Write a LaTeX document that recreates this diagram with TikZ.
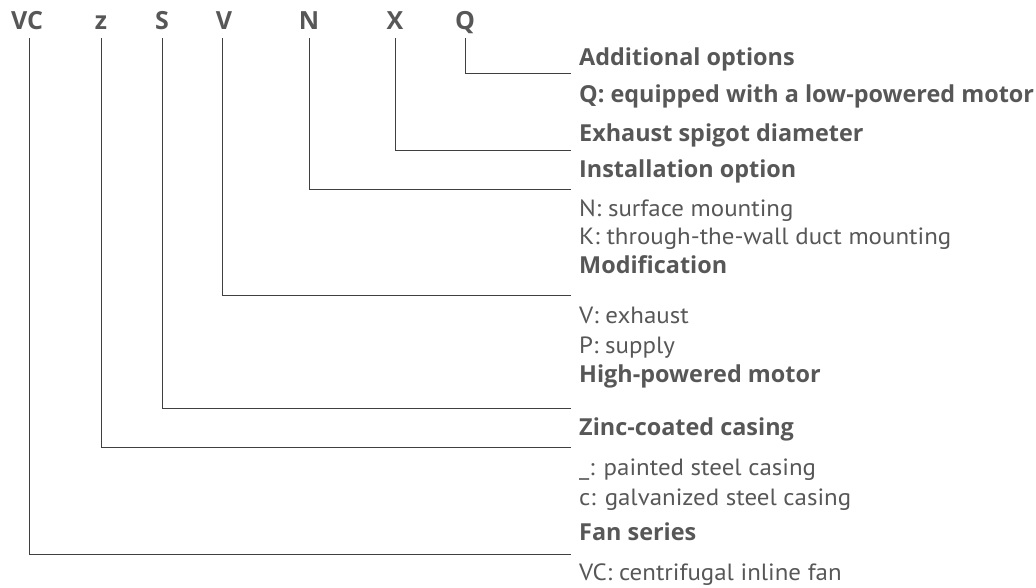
\documentclass[tikz,border=0pt]{standalone}
\usepackage{fontspec}
\setmainfont{PT Sans}[FakeStretch=1.06]
\newfontfamily\boldfam{Open Sans}
\usepackage{xcolor}
\usepackage{tikz}
\usetikzlibrary{positioning, calc}

\definecolor{inkgray}{HTML}{575757}
\definecolor{linegray}{HTML}{404040}

\begin{document}
\begin{tikzpicture}[
    x=1pt, y=-1pt,
    code/.style={anchor=base, inner sep=0pt, font=\boldfam\fontsize{25}{29}\selectfont\bfseries, text=inkgray},
    head/.style={anchor=base west, inner sep=0pt, font=\boldfam\fontsize{23.4}{27}\selectfont\bfseries, text=inkgray},
    item/.style={anchor=base west, inner sep=0pt, font=\fontsize{23.5}{27}\selectfont, text=inkgray},
    lead/.style={draw=linegray, line width=1pt}
]
    \useasboundingbox (0,0) rectangle (1036,587);

    % Code letters
    \node[code] (cVC) at (27,29) {VC};
    \node[code] (cz) at (101,29) {z};
    \node[code] (cS) at (162,29) {S};
    \node[code] (cV) at (224,29) {V};
    \node[code] (cN) at (309,29) {N};
    \node[code] (cX) at (395,29) {X};
    \node[code] (cQ) at (465,29) {Q};

    % Descriptions
    \node[head] (addopt) at (579,65) {Additional options};
    \node[head] (lowmot) at (579,102) {Q: equipped with a low-powered motor};
    \node[head] (spigot) at (579,141) {Exhaust spigot diameter};
    \node[head] (install) at (579,177) {Installation option};
    \node[item] (surface) at (579,216) {N: surface mounting};
    \node[item] (wall) at (579,244) {K: through-the-wall duct mounting};
    \node[head] (modif) at (579,273) {Modification};
    \node[item] (exhaust) at (579,323) {V: exhaust};
    \node[item] (supply) at (579,353) {P: supply};
    \node[head] (highmot) at (579,382) {High-powered motor};
    \node[head] (zinc) at (579,435) {Zinc-coated casing};
    \node[item] (painted) at (579,475) {\_: painted steel casing};
    \node[item] (galv) at (579,505) {c: galvanized steel casing};
    \node[head] (series) at (579,540) {Fan series};
    \node[item] (centri) at (579,580) {VC: centrifugal inline fan};

    % Line ends
    \coordinate (eQ) at (571,73);
    \coordinate (eX) at (571,150);
    \coordinate (eN) at (571,189);
    \coordinate (eV) at (571,295);
    \coordinate (eS) at (571,408);
    \coordinate (ez) at (571,447);
    \coordinate (eVC) at (571,554);

    % Leaders
    \draw[lead] ([yshift=-9pt]cQ.base) |- (eQ);
    \draw[lead] ([yshift=-9pt]cX.base) |- (eX);
    \draw[lead] ([yshift=-9pt]cN.base) |- (eN);
    \draw[lead] ([yshift=-9pt,xshift=-2pt]cV.base) |- (eV);
    \draw[lead] ([yshift=-9pt]cS.base) |- (eS);
    \draw[lead] ([yshift=-9pt]cz.base) |- (ez);
    \draw[lead] ([yshift=-9pt,xshift=2pt]cVC.base) |- (eVC);
\end{tikzpicture}
\end{document}
